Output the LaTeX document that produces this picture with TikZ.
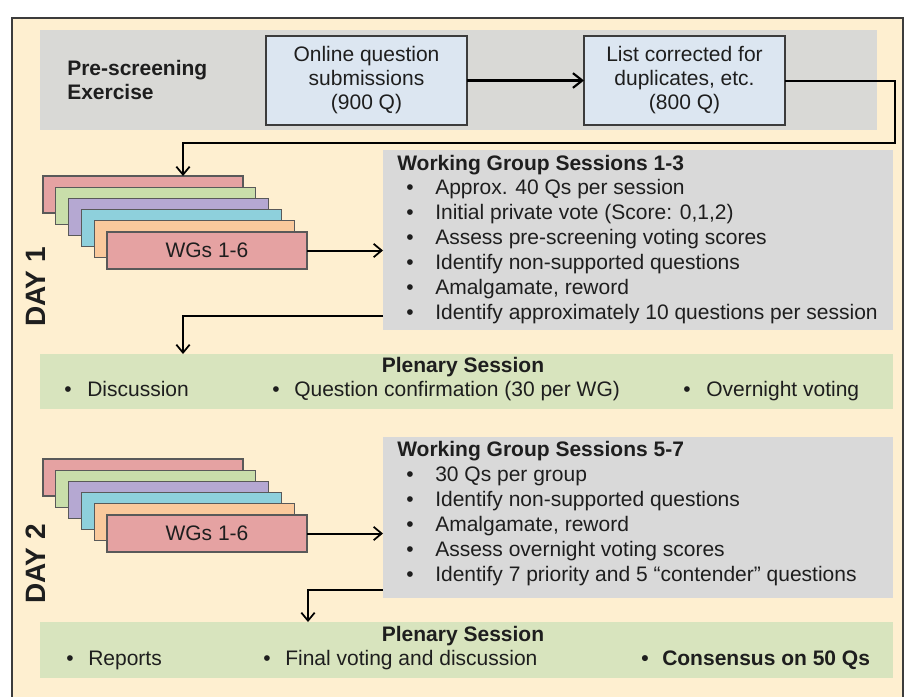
\documentclass[tikz,border=0pt]{standalone}
\usepackage{fontspec}
\setmainfont{Liberation Sans}
\usetikzlibrary{arrows.meta}
\newlength{\ux}\setlength{\ux}{0.75pt}
\definecolor{cream}{HTML}{FEEFD0}
\definecolor{framec}{HTML}{3C3C3C}
\definecolor{band}{HTML}{D9D9D6}
\definecolor{bluebox}{HTML}{DCE6F1}
\definecolor{wgray}{HTML}{D9D9D9}
\definecolor{plen}{HTML}{D8E4BE}
\definecolor{cpink}{HTML}{E5A2A2}
\definecolor{cgreen}{HTML}{C9DEAA}
\definecolor{cpurple}{HTML}{B5A8D2}
\definecolor{ccyan}{HTML}{8ED0DC}
\definecolor{corange}{HTML}{FAC99C}
\definecolor{txtc}{HTML}{1E1E1E}
\begin{document}
\begin{tikzpicture}[x=0.75pt,y=-0.75pt,
  box/.style args={#1/#2}{inner sep=0pt, outer sep=0pt, minimum width=#1*\ux, minimum height=#2*\ux},
  txt/.style={inner sep=0pt, text height=0.75em, text depth=0.25em, font=\fontsize{15.75pt}{18.75pt}\selectfont, text=txtc},
  btxt/.style={txt, font=\fontsize{15.75pt}{18.75pt}\selectfont\bfseries},
  bluestyle/.style={draw=framec, line width=1.1pt, fill=bluebox, align=center, text=txtc, font=\fontsize{15.75pt}{18pt}\selectfont},
  stackbox/.style={draw=black!65, line width=0.8pt, text=txtc, font=\fontsize{15.75pt}{18pt}\selectfont},
  graybox/.style={fill=wgray},
  plenbox/.style={fill=plen},
  daylbl/.style={rotate=90, inner sep=0pt, font=\fontsize{21pt}{24pt}\selectfont\bfseries, text=txtc},
  arr/.style={draw=black, line width=1.5pt, -{Straight Barb[length=6pt,width=10pt,line width=1.3pt]}},
  bigarr/.style={draw=black, line width=2.2pt, -{Straight Barb[length=7pt,width=11pt,line width=1.6pt]}},
  bul/.style args={#1}{}]
\useasboundingbox (0,0) rectangle (909,696);
% background and frame
\fill[cream] (12,18) rectangle (903,697);
\draw[framec, line width=1.2pt] (12,697) -- (12,18) -- (903,18) -- (903,697);

% pre-screening band
\node[box=837/100, fill=band] (pre) at (458.5,80) {};
\node[btxt, anchor=west, align=left, text height=, text depth=, font=\fontsize{15.75pt}{18pt}\selectfont\bfseries] (prelbl) at (67,80) {Pre-screening\\Exercise};
\node[box=201/89, bluestyle] (b1) at (366.5,80.5) {Online question\\submissions\\(900 Q)};
\node[box=201/89, bluestyle] (b2) at (684.5,80.5) {List corrected for\\duplicates, etc.\\(800 Q)};
\draw[bigarr] (b1.east) -- (b2.west);

% ---------- DAY 1 ----------
\foreach \c [count=\i from 0] in {cpink,cgreen,cpurple,ccyan,corange}
  \node[box=200/37, stackbox, fill=\c, anchor=north west] (sa\i) at (43+12.8*\i,176+11.2*\i) {};
\node[box=200/37, stackbox, fill=cpink, anchor=north west] (fa) at (107,232) {WGs 1-6};
\node[daylbl] (day1) at (36,287) {DAY 1};

\coordinate (c1) at (895,143);
\coordinate (c2) at (183,143);
\draw[arr] (b2.east) -| (c1) -- (c2) -- (c2 |- sa0.north);

\node[box=510/180, graybox, anchor=north west] (wg1) at (383,150) {};
\draw[arr] (fa.east) -- (fa.east -| wg1.west);
\node[btxt, anchor=west] (wg1t) at (397,167) {Working Group Sessions 1-3};
\foreach \t [count=\i] in {{Approx. 40 Qs per session},{Initial private vote (Score: 0,1,2)},{Assess pre-screening voting scores},{Identify non-supported questions},{Amalgamate, reword},{Identify approximately 10 questions per session}}
  \node[txt, anchor=west] (wa\i) at (406,166+25*\i) {\makebox[29\ux][l]{•}\t};

\node[box=853/55, plenbox, anchor=north west] (pl1) at (40,354) {};
\coordinate (c3) at (183,316);
\draw[arr] (wg1.west |- c3) -- (c3) -- (c3 |- pl1.north);
\node[btxt] (pl1t) at (463,369) {Plenary Session};
\node[txt, anchor=west] (p1a) at (64,393) {\makebox[23\ux][l]{•}Discussion};
\node[txt, anchor=west] (p1b) at (272,393) {\makebox[22\ux][l]{•}Question confirmation (30 per WG)};
\node[txt, anchor=west] (p1c) at (683,393) {\makebox[23\ux][l]{•}Overnight voting};

% ---------- DAY 2 ----------
\foreach \c [count=\i from 0] in {cpink,cgreen,cpurple,ccyan,corange}
  \node[box=200/37, stackbox, fill=\c, anchor=north west] (sb\i) at (43+12.8*\i,459+11.2*\i) {};
\node[box=200/37, stackbox, fill=cpink, anchor=north west] (fb) at (107,515) {WGs 1-6};
\node[daylbl] (day2) at (36,564) {DAY 2};

\node[box=510/161, graybox, anchor=north west] (wg2) at (383,437) {};
\draw[arr] (fb.east) -- (fb.east -| wg2.west);
\node[btxt, anchor=west] (wg2t) at (397,453) {Working Group Sessions 5-7};
\foreach \t [count=\i] in {{30 Qs per group},{Identify non-supported questions},{Amalgamate, reword},{Assess overnight voting scores},{Identify 7 priority and 5 “contender” questions}}
  \node[txt, anchor=west] (wb\i) at (406,453+25*\i) {\makebox[29\ux][l]{•}\t};

\node[box=853/56, plenbox, anchor=north west] (pl2) at (40,622) {};
\coordinate (c4) at (308,590);
\draw[arr] (wg2.west |- c4) -- (c4) -- (c4 |- pl2.north);
\node[btxt] (pl2t) at (463,638) {Plenary Session};
\node[txt, anchor=west] (p2a) at (66,662) {\makebox[22\ux][l]{•}Reports};
\node[txt, anchor=west] (p2b) at (263,662) {\makebox[22\ux][l]{•}Final voting and discussion};
\node[btxt, anchor=west] (p2c) at (641,662) {\makebox[21\ux][l]{•}Consensus on 50 Qs};
\end{tikzpicture}
\end{document}
